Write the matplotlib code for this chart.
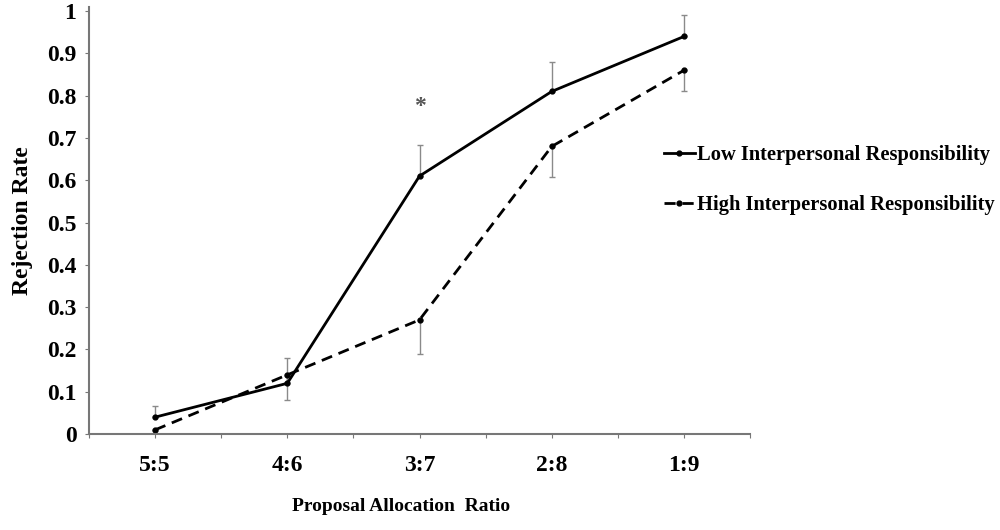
import numpy as np
import matplotlib.pyplot as plt

plt.rcParams['font.family'] = ['Liberation Serif', 'DejaVu Serif']
plt.rcParams['font.weight'] = 'bold'

# datos
ratios = ['5:5', '4:6', '3:7', '2:8', '1:9']
low_resp = [0.04, 0.12, 0.61, 0.81, 0.94]
low_err = [0.026, 0.06, 0.073, 0.07, 0.05]
high_resp = [0.01, 0.14, 0.27, 0.68, 0.86]
high_err = [0.01, 0.06, 0.08, 0.072, 0.05]

x = np.arange(len(ratios))

fig = plt.figure(figsize=(10, 5.3), dpi=100)
ax = fig.add_axes([0.089, 0.181, 0.661, 0.806])

# barras de error: Low hacia arriba, High hacia abajo
ax.errorbar(x, low_resp, yerr=[np.zeros(len(x)), low_err], fmt='none',
            ecolor='#8a8a8a', elinewidth=1, capsize=2, capthick=1)
ax.errorbar(x, high_resp, yerr=[high_err, np.zeros(len(x))], fmt='none',
            ecolor='#8a8a8a', elinewidth=1, capsize=2, capthick=1)

ax.plot(x, low_resp, color='black', linestyle='-', linewidth=2,
        marker='o', markersize=3.5, label='Low Interpersonal Responsibility')
ax.plot(x, high_resp, color='black', linestyle=(0, (4, 2.5)), linewidth=2,
        marker='o', markersize=3.5, label='High Interpersonal Responsibility')

# asterisco de significancia
ax.text(2, 0.775, '*', ha='center', va='center', fontsize=17, color='#555555')

ax.set_xlim(-0.5, 4.5)
ax.set_ylim(0, 1.01)
ax.set_xticks(np.arange(-0.5, 4.6, 0.5))
ax.set_xticklabels(['' if t % 1 else ratios[int(t)] for t in np.arange(-0.5, 4.6, 0.5)])
ax.set_yticks(np.arange(0, 1.01, 0.1))
ax.set_yticklabels(['0'] + [f'{v:.1f}' for v in np.arange(0.1, 0.95, 0.1)] + ['1'])
ax.tick_params(axis='both', labelsize=17, length=3, color='#777777', pad=6)
ax.tick_params(axis='x', pad=12)

for s in ['top', 'right']:
    ax.spines[s].set_visible(False)
for s in ['left', 'bottom']:
    ax.spines[s].set_color('#777777')
    ax.spines[s].set_linewidth(1.5)

ax.set_ylabel('Rejection Rate', fontsize=17, fontweight='bold', labelpad=10)
ax.set_xlabel('Proposal Allocation  Ratio', fontsize=14, fontweight='bold')
ax.xaxis.set_label_coords(0.472, -0.15)

leg = fig.legend(loc='center left', bbox_to_anchor=(0.664, 0.66), frameon=False,
                 fontsize=14.8, handlelength=1.5, handletextpad=0.1, labelspacing=1.45,
                 borderpad=0, borderaxespad=0)

plt.savefig('out.png', dpi=100)
